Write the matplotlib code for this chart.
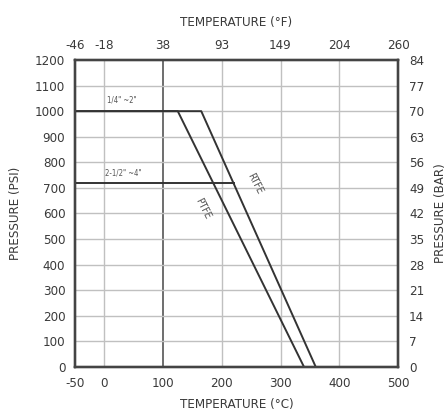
import matplotlib
matplotlib.use('Agg')
import matplotlib.pyplot as plt

plt.rcParams['font.family'] = ['DejaVu Sans']
plt.rcParams['font.stretch'] = 'condensed'
plt.rcParams['axes.unicode_minus'] = False

# axis ticks
temp_c_ticks = [-50, 0, 100, 200, 300, 400, 500]
temp_f_labels = ['-46', '-18', '38', '93', '149', '204', '260']
psi_ticks = [0, 100, 200, 300, 400, 500, 600, 700, 800, 900, 1000, 1100, 1200]
bar_labels = ['0', '7', '14', '21', '28', '35', '42', '49', '56', '63', '70', '77', '84']

# rating curves (temperature C, pressure psi)
ptfe_t = [-50, 125, 340]
ptfe_p = [1000, 1000, 0]
rtfe_t = [-50, 165, 360]
rtfe_p = [1000, 1000, 0]
big_t = [-50, 220]
big_p = [720, 720]

txt = '#3a3a3a'

fig = plt.figure(figsize=(4.48, 4.19), dpi=100)
ax = fig.add_axes([75/448, 1 - 367/419, 323/448, 307/419])

ax.set_xlim(-50, 500)
ax.set_ylim(0, 1200)

for x in [0, 100, 200, 300, 400]:
    if x == 100:
        ax.axvline(x, color='#555555', lw=1.2, zorder=1)
    else:
        ax.axvline(x, color='#c0c0c0', lw=1.0, zorder=1)
for y in psi_ticks[1:-1]:
    ax.axhline(y, color='#c0c0c0', lw=1.0, zorder=1)

ax.plot(ptfe_t, ptfe_p, color='#333333', lw=1.4, zorder=3)
ax.plot(rtfe_t, rtfe_p, color='#333333', lw=1.4, zorder=3)
ax.plot(big_t, big_p, color='#333333', lw=1.4, zorder=3)

ax.text(4, 1025, '1/4" ~2"', fontsize=5.5, color='#555555', va='bottom')
ax.text(1, 742, '2-1/2" ~4"', fontsize=5.5, color='#555555', va='bottom')
ax.text(168, 620, 'PTFE', fontsize=7.5, color='#555555', rotation=-63,
        ha='center', va='center', rotation_mode='anchor')
ax.text(257, 718, 'RTFE', fontsize=7.5, color='#555555', rotation=-63,
        ha='center', va='center', rotation_mode='anchor')

ax.set_xticks(temp_c_ticks)
ax.set_yticks(psi_ticks)
ax.tick_params(length=0, labelsize=9.5, pad=7, colors=txt)
for s in ax.spines.values():
    s.set_linewidth(1.6)
    s.set_color('#444444')
ax.set_xlabel('TEMPERATURE (°C)', fontsize=9.5, color=txt, labelpad=6)
ax.set_ylabel('PRESSURE (PSI)', fontsize=9.5, color=txt)
ax.yaxis.set_label_coords(-0.165, 0.5)

axt = ax.twiny()
axt.set_xlim(ax.get_xlim())
axt.set_xticks(temp_c_ticks)
axt.set_xticklabels(temp_f_labels)
axt.tick_params(length=0, labelsize=9.5, pad=6, colors=txt)
axt.set_xlabel('TEMPERATURE (°F)', fontsize=9.5, color=txt, labelpad=9)

axr = ax.twinx()
axr.set_ylim(ax.get_ylim())
axr.set_yticks(psi_ticks)
axr.set_yticklabels(bar_labels)
axr.tick_params(length=0, labelsize=9.5, pad=8, colors=txt)
axr.set_ylabel('PRESSURE (BAR)', fontsize=9.5, color=txt)
axr.yaxis.set_label_coords(1.112, 0.5)
for a in (axt, axr):
    for s in a.spines.values():
        s.set_linewidth(1.6)
        s.set_color('#444444')

fig.savefig('out.png', dpi=100)
